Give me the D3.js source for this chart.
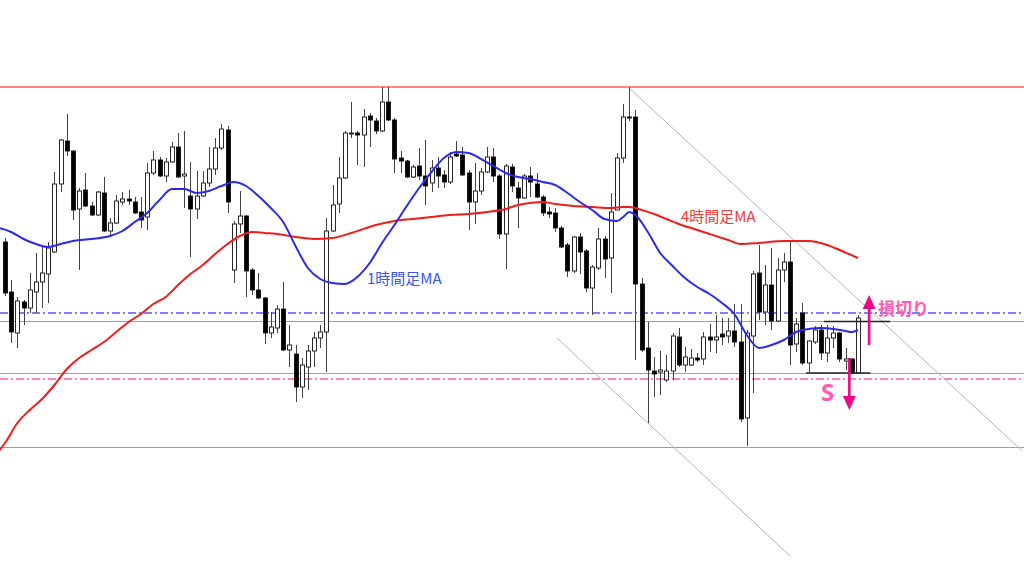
<!DOCTYPE html>
<html><head><meta charset="utf-8">
<script src="https://cdn.jsdelivr.net/npm/d3@7"></script>
<style>html,body{margin:0;padding:0;background:#fff;overflow:hidden}</style>
</head><body><div id="chart"></div>
<script>
// candle index 0..138, prices in pips above a base level
const opens  = [205,155,114,145,139,155,165,173,195,263,306,296,238,257,241,232,254,216,224,245,248,245,235,230,274,287,271,285,300,271,251,238,251,264,278,299,317,177,223,231,177,157,149,114,119,138,97,93,60,80,96,109,115,216,243,269,313,314,312,331,326,316,345,327,289,286,270,281,271,264,279,272,265,293,292,274,245,256,275,290,271,213,280,259,249,271,263,250,235,234,219,202,176,210,196,159,179,208,189,237,289,330,330,163,99,76,75,67,76,110,82,82,89,88,110,107,113,111,116,105,29,111,174,135,162,126,177,185,103,134,84,105,117,94,109,114,86,88,74];
const highs  = [209,167,150,147,174,194,200,205,275,308,333,297,259,274,245,256,270,229,252,255,257,250,250,284,296,290,289,305,314,316,285,276,276,300,309,323,321,226,256,232,179,174,150,135,142,165,122,102,89,102,115,122,229,262,290,316,345,316,338,334,329,360,360,329,296,287,282,299,307,287,290,277,295,306,300,277,284,279,300,299,273,283,283,265,273,280,274,252,240,239,221,204,211,214,198,182,219,211,254,294,343,360,337,169,125,90,96,92,114,119,100,98,94,115,123,132,129,129,143,143,117,176,202,182,199,189,194,207,129,144,107,121,122,122,121,115,99,89,132];
const lows   = [151,104,99,122,134,134,139,144,194,255,291,227,177,240,231,231,215,210,223,242,242,233,219,217,272,270,265,284,269,239,190,228,250,260,272,297,234,164,214,150,152,148,103,109,114,96,80,45,49,57,80,99,75,215,234,268,309,282,280,300,313,315,326,274,274,269,269,267,242,255,259,259,263,290,271,217,223,252,274,265,208,178,255,219,248,250,249,231,229,215,199,170,174,173,155,132,177,169,154,239,284,326,87,95,24,50,52,65,67,80,75,81,85,82,95,94,102,104,100,25,1,54,127,122,117,125,165,82,95,82,75,103,87,85,99,85,77,73,73];
const closes = [154,115,146,139,157,165,174,199,263,307,296,237,256,241,232,255,216,224,246,248,246,234,227,274,287,271,285,300,270,273,238,251,264,278,299,318,245,223,231,176,157,149,114,120,138,97,102,60,82,96,109,115,216,242,269,314,314,312,330,327,316,345,327,288,286,270,280,271,261,279,271,265,290,291,272,245,256,275,290,271,213,281,261,249,271,265,250,234,233,219,200,176,210,195,159,180,208,188,235,289,330,329,163,97,77,73,77,76,111,82,90,89,87,110,107,110,110,116,105,28,114,173,135,162,126,177,185,102,123,84,106,117,94,109,114,88,88,74,129];

// moving averages: [candle index, value]
const ma1h = [[-1,219],[1,215],[3,208],[5,203],[7,200],[9,203],[11,206],[14,208],[17,211],[19,216],[21,225],[23,234],[25,247],[27,258],[29,258],[31,254],[33,256],[35,261],[37,265],[39,261],[41,251],[43,239],[45,225],[47,201],[49,179],[51,168],[53,164],[55,163],[57,170],[59,184],[61,204],[63,222],[65,241],[67,259],[69,275],[71,289],[73,295],[75,294],[77,288],[79,281],[81,274],[83,270],[85,268],[87,265],[89,262],[91,254],[93,245],[95,237],[97,228],[99,226],[100,230],[101,235],[102,232],[104,215],[106,194],[108,181],[110,169],[112,160],[114,153],[116,144],[118,133],[120,112],[122,99],[124,102],[126,107],[128,115],[130,118],[132,119],[134,118],[136,116],[137,115],[138,117]];
const ma4h = [[-1,-4],[0,4],[2,24],[4,37],[6,48],[8,62],[10,78],[12,89],[14,97],[16,105],[18,115],[20,125],[22,133],[24,143],[26,150],[28,162],[30,173],[32,182],[34,193],[36,203],[38,211],[40,215],[42,214],[44,213],[47,210],[50,208],[53,209],[56,214],[60,222],[63,226],[66,228],[69,230],[72,232],[75,233],[78,235],[81,238],[83,242],[85,244],[87,245],[89,243],[92,241],[95,240],[98,239],[100,240],[101,240],[103,237],[105,233],[107,228],[109,223],[111,219],[114,213],[117,207],[119,203],[122,204],[126,206],[130,206],[133,202],[135,197],[138,189]];

// horizontal levels
const resistanceLevel = 360;
const stopLevel = 134.5;      // blue dash-dot
const rangeHigh = 126;        // gray
const rangeLow = 74;          // gray
const entryLevel = 68;        // pink dash-dot
const supportLevel = 0.5;     // bottom gray

// trend channel [index, value]
const channelUpper = [[100.8,360],[164.6,-4]];
const channelLower = [[89.3,109],[127.0,-109]];

// range box lines
const boxTop = [[132.5,125.5],[143.2,125.5]];
const boxBottom = [[129.6,74],[140.0,74]];

// arrows
const arrowUp = {i:139.8, from:102, to:152};
const arrowDown = {i:136.6, from:89, to:37};

const labels = {ma1h:"1時間足MA", ma4h:"4時間足MA", stop:"損切り", sell:"S"};

const W=1024,H=576;
const svg = d3.select("#chart").append("svg").attr("width",W).attr("height",H)
  .style("font-family","'Noto Sans CJK JP','Noto Sans',sans-serif");

const x = d3.scaleLinear().domain([0,138]).range([5,858]);
const y = d3.scaleLinear().domain([0,360]).range([447,87]);

// horizontal lines
function hline(v, color, dash, w){
  const yy = w && w>1.2 ? Math.round(y(v)) : Math.round(y(v))+0.5;
  svg.append("line").attr("x1",0).attr("x2",W).attr("y1",yy).attr("y2",yy)
    .attr("stroke",color).attr("stroke-width",w||1).attr("stroke-dasharray",dash||null);
}
hline(resistanceLevel,"#ff5b5b",null,1.3);
hline(rangeHigh,"#9a9fad");
hline(rangeLow,"#9a9fad");
hline(supportLevel,"#9a9fad");
hline(stopLevel,"#5656ff","8,3,2,3",1.5);
hline(entryLevel,"#ff5fa8","8,3,2,3",1.5);

// channel lines
[channelUpper, channelLower].forEach(c=>{
  svg.append("line").attr("x1",x(c[0][0])).attr("y1",y(c[0][1])).attr("x2",x(c[1][0])).attr("y2",y(c[1][1]))
    .attr("stroke","#b4b4b8").attr("stroke-width",1);
});

// candles
const idx = d3.range(opens.length);
const g = svg.append("g");
g.selectAll("line.w").data(idx).join("line")
  .attr("x1",i=>Math.round(x(i))+0.5).attr("x2",i=>Math.round(x(i))+0.5)
  .attr("y1",i=>y(highs[i])).attr("y2",i=>y(lows[i]))
  .attr("stroke","#444").attr("stroke-width",1);
g.selectAll("rect").data(idx).join("rect")
  .attr("x",i=>Math.round(x(i))-1.5).attr("width",4)
  .attr("y",i=>y(Math.max(opens[i],closes[i])))
  .attr("height",i=>Math.max(1,Math.abs(y(opens[i])-y(closes[i]))))
  .attr("fill",i=>closes[i]>=opens[i]?"#fff":"#000")
  .attr("stroke","#111").attr("stroke-width",0.9);

// MA lines
const line = d3.line().x(d=>x(d[0])).y(d=>y(d[1])).curve(d3.curveMonotoneX);
svg.append("path").attr("d",line(ma4h)).attr("fill","none").attr("stroke","#f01c1c").attr("stroke-width",2);
svg.append("path").attr("d",line(ma1h)).attr("fill","none").attr("stroke","#2a2aee").attr("stroke-width",2);

// box lines
[boxTop, boxBottom].forEach(b=>{
  svg.append("line").attr("x1",x(b[0][0])).attr("x2",x(b[1][0])).attr("y1",y(b[0][1])).attr("y2",y(b[1][1]))
    .attr("stroke","#222").attr("stroke-width",1.6);
});

// arrows
function arrow(a, color){
  const ax = x(a.i), y0 = y(a.from), y1 = y(a.to);
  const dir = y1<y0 ? 1 : -1; // 1 = up
  const hh = 14, hw = 6.5;
  svg.append("line").attr("x1",ax).attr("x2",ax).attr("y1",y0).attr("y2",y1+dir*hh*0.8)
    .attr("stroke",color).attr("stroke-width",2.6);
  svg.append("path").attr("d",`M${ax},${y1} L${ax-hw},${y1+dir*hh} L${ax+hw},${y1+dir*hh} Z`).attr("fill",color);
}
arrow(arrowUp,"#ec0a86");
arrow(arrowDown,"#ec0a86");

// labels
svg.append("text").attr("x",367).attr("y",284).attr("fill","#3b55f0").attr("font-size",15).text(labels.ma1h);
svg.append("text").attr("x",681).attr("y",222).attr("fill","#f23a3a").attr("font-size",15).text(labels.ma4h);
svg.append("text").attr("x",878).attr("y",315).attr("fill","#ff5cb0").attr("font-size",17).attr("font-weight","bold").text(labels.stop);
svg.append("text").attr("x",821).attr("y",401).attr("fill","#ff5cb0").attr("font-size",24).attr("font-weight","bold")
  .style("font-family","'Noto Sans',sans-serif").text(labels.sell);
</script></body></html>
